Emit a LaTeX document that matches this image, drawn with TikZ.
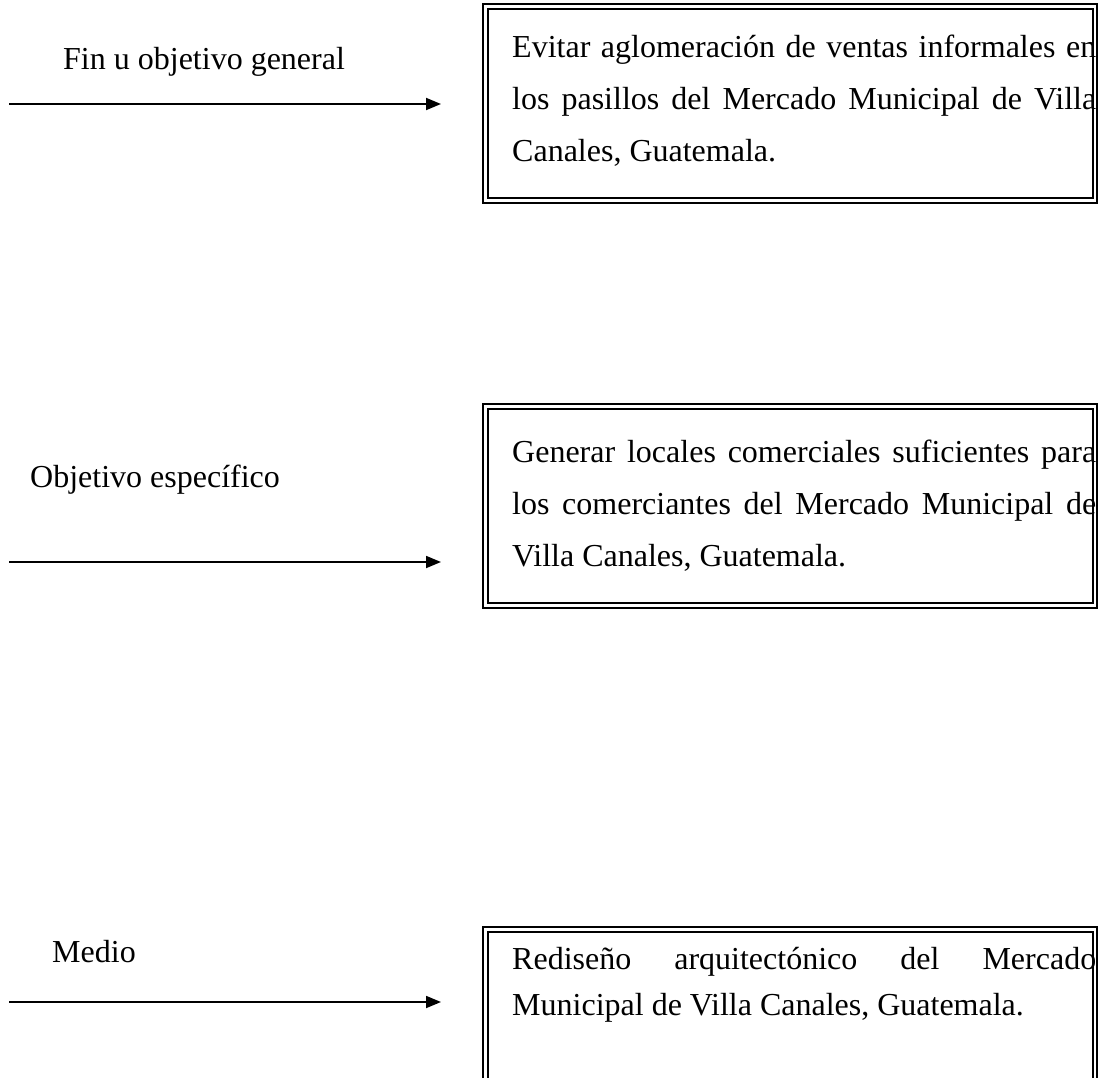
\documentclass[tikz,border=0pt]{standalone}
\usepackage{fontspec}
\setmainfont{Liberation Serif}
\usetikzlibrary{arrows.meta}
\begin{document}
\begin{tikzpicture}[x=1pt,y=-1pt,
  lbl/.style={anchor=base west, inner sep=0pt, font=\fontsize{32}{38}\selectfont},
  txt/.style={anchor=base west, inner sep=0pt, font=\fontsize{32}{38}\selectfont},
  dbox/.style={draw, double, double distance=2.4pt, line width=2.1pt, rectangle, inner sep=0pt, anchor=north west},
  arr/.style={line width=1.8pt, -{Triangle[length=15pt,width=12pt]}}]
\useasboundingbox (0,0) rectangle (1100,1078);
% boxes
\node[dbox, minimum width=609.5pt, minimum height=194pt] (box1) at (484.5,5.5) {};
\node[dbox, minimum width=609.5pt, minimum height=199pt] (box2) at (484.5,405.5) {};
\node[dbox, minimum width=609.5pt, minimum height=155pt] (box3) at (484.5,928.5) {};
% box texts
\node[txt] (t1a) at (512,58) {\makebox[584pt][s]{Evitar aglomeración de ventas informales en}};
\node[txt] (t1b) at (512,110) {\makebox[584pt][s]{los pasillos del Mercado Municipal de Villa}};
\node[txt] (t1c) at (512,162) {Canales, Guatemala.};
\node[txt] (t2a) at (512,462) {\makebox[584pt][s]{Generar locales comerciales suficientes para}};
\node[txt] (t2b) at (512,514) {\makebox[584pt][s]{los comerciantes del Mercado Municipal de}};
\node[txt] (t2c) at (512,566) {Villa Canales, Guatemala.};
\node[txt] (t3a) at (512,969) {\makebox[584pt][s]{Rediseño arquitectónico del Mercado}};
\node[txt] (t3b) at (512,1015) {Municipal de Villa Canales, Guatemala.};
% labels
\node[lbl] (l1) at (63,70) {Fin u objetivo general};
\node[lbl] (l2) at (30,487) {Objetivo específico};
\node[lbl] (l3) at (52,962) {Medio};
% arrows
\coordinate (a1s) at (9,104);
\coordinate (a1e) at (441,104);
\coordinate (a2s) at (9,562);
\coordinate (a2e) at (441,562);
\coordinate (a3s) at (9,1002);
\coordinate (a3e) at (441,1002);
\draw[arr] (a1s) -- (a1e);
\draw[arr] (a2s) -- (a2e);
\draw[arr] (a3s) -- (a3e);
\end{tikzpicture}
\end{document}
